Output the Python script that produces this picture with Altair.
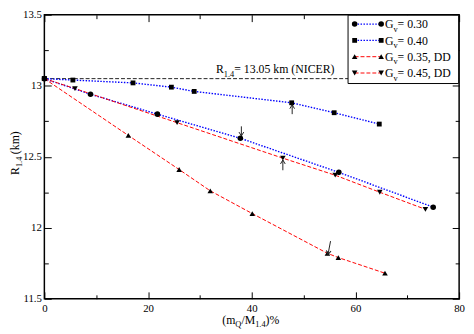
import altair as alt
import pandas as pd

FONT = "'Liberation Serif', 'Times New Roman', serif"

# ---------------- data ----------------
series_names = ["Gv = 0.30", "Gv = 0.40", "Gv = 0.35, DD", "Gv = 0.45, DD"]
legend_values = [" = 0.30", " = 0.40", " = 0.35, DD", " = 0.45, DD"]

x030 = [0, 8.9, 21.8, 37.8, 56.8, 75.0]
y030 = [13.05, 12.94, 12.80, 12.63, 12.39, 12.145]
x040 = [0, 5.5, 17.1, 24.5, 28.9, 47.7, 55.9, 64.6]
y040 = [13.05, 13.04, 13.02, 12.99, 12.96, 12.88, 12.81, 12.73]
x035 = [0, 16.2, 26.0, 32.0, 40.1, 54.6, 56.7, 65.7]
y035 = [13.05, 12.65, 12.41, 12.26, 12.10, 11.82, 11.79, 11.68]
x045 = [0, 5.9, 25.6, 46.0, 56.1, 64.7, 73.5]
y045 = [13.05, 12.98, 12.74, 12.49, 12.37, 12.25, 12.13]

nicer_x = [0, 80]
nicer_y = [13.05, 13.05]
nicer_label_x = [33.1]
nicer_label_y = [13.087]

# arrows: tail -> tip (data coords), head rotation
arrow_x_tail = [38.0, 47.8, 46.0, 55.2]
arrow_y_tail = [12.714, 12.80, 12.405, 11.906]
arrow_x_tip = [38.0, 47.8, 46.0, 54.7]
arrow_y_tip = [12.646, 12.866, 12.477, 11.811]
arrow_angle = [180, 0, 0, 190.5]

x_major = [0, 20, 40, 60, 80]
x_minor = [10, 30, 50, 70]
y_major = [11.5, 12, 12.5, 13, 13.5]
y_minor = [11.75, 12.25, 12.75, 13.25]

# ---------------- styles ----------------
line_colors = ["#0000ff", "#0000ff", "#ff0000", "#ff0000"]
line_dashes = [[1.5, 1.5], [1.5, 1.5], [4, 2], [4, 2]]
line_widths = [1.4, 1.4, 1.0, 1.0]
shapes = ["circle", "square", "triangle-up", "triangle-down"]
sizes = [32, 24, 32, 32]

W, H = 422, 289
xs = alt.Scale(domain=[0, 80], nice=False, zero=False)
ys = alt.Scale(domain=[11.5, 13.5], nice=False, zero=False)

rows = []
for name, xv, yv in zip(series_names, [x030, x040, x035, x045], [y030, y040, y035, y045]):
    for a, b in zip(xv, yv):
        rows.append({"series": name, "x": a, "y": b})
df = pd.DataFrame(rows)

layers = []

# NICER reference line
df_nicer = pd.DataFrame({"x": nicer_x, "y": nicer_y})
layers.append(
    alt.Chart(df_nicer).mark_line(color="#222", strokeDash=[4, 2], strokeWidth=1).encode(
        x=alt.X("x:Q", scale=xs, axis=None), y=alt.Y("y:Q", scale=ys, axis=None)
    )
)

# series lines
for i, name in enumerate(series_names):
    layers.append(
        alt.Chart(df[df.series == name]).mark_line(
            color=line_colors[i], strokeDash=line_dashes[i], strokeWidth=line_widths[i]
        ).encode(
            x=alt.X("x:Q", scale=xs, axis=None),
            y=alt.Y("y:Q", scale=ys, axis=None),
        )
    )
# series markers
for i, name in enumerate(series_names):
    layers.append(
        alt.Chart(df[df.series == name]).mark_point(
            shape=shapes[i], filled=True, color="black", opacity=1, size=sizes[i]
        ).encode(
            x=alt.X("x:Q", scale=xs, axis=None),
            y=alt.Y("y:Q", scale=ys, axis=None),
        )
    )

# arrows
df_arr = pd.DataFrame({
    "xt": arrow_x_tail, "yt": arrow_y_tail,
    "xh": arrow_x_tip, "yh": arrow_y_tip, "ang": arrow_angle,
})
layers.append(
    alt.Chart(df_arr).mark_rule(color="#222", strokeWidth=1).encode(
        x=alt.X("xt:Q", scale=xs, axis=None), y=alt.Y("yt:Q", scale=ys, axis=None),
        x2="xh:Q", y2="yh:Q",
    )
)
layers.append(
    alt.Chart(df_arr).mark_point(
        shape="M-0.6,1L0,0L0.6,1", filled=False, color="#222", strokeWidth=1, size=64, opacity=1
    ).encode(
        x=alt.X("xh:Q", scale=xs, axis=None), y=alt.Y("yh:Q", scale=ys, axis=None),
        angle=alt.Angle("ang:Q", scale=None),
    )
)

# --------- text with subscripts built from pieces ---------
CW = {"(": .333, ")": .333, "m": .778, "Q": .722, "/": .278, "M": .889, "1": .5, ".": .25,
      "4": .5, "%": .833, "R": .667, " ": .25, "k": .5, "=": .564, "N": .722, "I": .333,
      "C": .667, "E": .611, "G": .722, "v": .5, ",": .25, "D": .722}


def tw(s, fs):
    return sum(CW.get(c, 0.5) for c in s) * fs


def piece_layers(parts, enc, fs=12, sfs=8.5, sub_dy=3.5, data=None):
    out = []
    off = 0.0
    src = data if data is not None else pd.DataFrame({"a": [0]})
    for text, sub in parts:
        size = sfs if sub else fs
        kw = dict(text=text, font=FONT, fontSize=size, align="left", baseline="alphabetic",
                  dx=off, dy=(sub_dy if sub else 0), color="black")
        out.append(alt.Chart(src).mark_text(**kw).encode(**enc))
        off += tw(text, size)
    return out


def rotated_pieces(parts, x0, y0, fs=12, sfs=8.5, sub_dy=3.2, gap=2.5):
    out = []
    off = 0.0
    src = pd.DataFrame({"a": [0]})
    for text, sub in parts:
        size = sfs if sub else fs
        out.append(
            alt.Chart(src).mark_text(
                text=text, font=FONT, fontSize=size, align="left", baseline="alphabetic",
                angle=270, color="black",
            ).encode(x=alt.value(x0 + (sub_dy if sub else 0)), y=alt.value(y0 - off))
        )
        off += tw(text, size) + (gap if sub else 0)
    return out


# NICER label (data anchored)
df_nl = pd.DataFrame({"x": nicer_label_x, "y": nicer_label_y})
layers += piece_layers(
    [("R", False), ("1.4", True), (" = 13.05 km (NICER)", False)],
    dict(x=alt.X("x:Q", scale=xs, axis=None), y=alt.Y("y:Q", scale=ys, axis=None)),
    data=df_nl,
)

# legend (manual, to get marker-line-marker symbols)
LX0, LX1, LXT = 315.7, 342.7, 346.5
LB = (309, W - 0.5, 0.5, 70)
layers.append(
    alt.Chart(pd.DataFrame({"a": [0]})).mark_rect(fill="white", stroke="black", strokeWidth=1).encode(
        x=alt.value(LB[0]), x2=alt.value(LB[1]), y=alt.value(LB[2]), y2=alt.value(LB[3])
    )
)
for i, name in enumerate(series_names):
    ry = 9.5 + 16.6 * i
    one = pd.DataFrame({"a": [0]})
    layers.append(
        alt.Chart(one).mark_rule(color=line_colors[i], strokeDash=line_dashes[i],
                                 strokeWidth=line_widths[i]).encode(
            x=alt.value(LX0), x2=alt.value(LX1), y=alt.value(ry)
        )
    )
    for lx in (LX0, LX1):
        layers.append(
            alt.Chart(one).mark_point(shape=shapes[i], filled=True, color="black",
                                      opacity=1, size=sizes[i]).encode(
                x=alt.value(lx), y=alt.value(ry)
            )
        )
    layers += piece_layers(
        [("G", False), ("v", True), (legend_values[i], False)],
        dict(x=alt.value(LXT), y=alt.value(ry + 4.2)),
    )

# axis titles
layers += piece_layers(
    [("(m", False), ("Q", True), ("/M", False), ("1.4", True), (")%", False)],
    dict(x=alt.value(181), y=alt.value(314.5)),
)
layers += rotated_pieces([("R", False), ("1.4", True), (" (km)", False)], -25.5, 163)

# --------- axes: labels + inward ticks on all four sides ---------
carrier = pd.DataFrame({"x": [40], "y": [12.5]})


def axis_layer(xaxis, yaxis):
    return alt.Chart(carrier).mark_point(opacity=0).encode(
        x=alt.X("x:Q", scale=xs, axis=xaxis), y=alt.Y("y:Q", scale=ys, axis=yaxis)
    )


common = dict(grid=False, domain=False, title=None)
layers.append(axis_layer(
    alt.Axis(orient="bottom", values=x_major, ticks=False, labelPadding=4, format="d",
             labelFlush=False, **common),
    alt.Axis(orient="left", values=y_major, ticks=False, labelPadding=3, format="~g",
             labelFlush=False, **common),
))
for orx, ory, vals_x, vals_y, size in [
    ("bottom", "left", x_major, y_major, 7),
    ("bottom", "left", x_minor, y_minor, 4),
    ("top", "right", x_major, y_major, 7),
    ("top", "right", x_minor, y_minor, 4),
]:
    layers.append(axis_layer(
        alt.Axis(orient=orx, values=vals_x, labels=False, ticks=True, tickSize=size,
                 offset=-size, tickColor="black", tickWidth=1, **common),
        alt.Axis(orient=ory, values=vals_y, labels=False, ticks=True, tickSize=size,
                 offset=-size, tickColor="black", tickWidth=1, **common),
    ))

chart = alt.layer(*layers).resolve_axis(x="independent", y="independent").properties(
    width=W, height=H, autosize="none",
    padding={"left": 37, "top": 4, "right": 7, "bottom": 33},
).configure_view(stroke="black", strokeWidth=1.5).configure_axis(
    labelFont=FONT, labelFontSize=11, labelColor="black"
)

chart.save("out.html", embed_options={"renderer": "svg", "actions": False})
